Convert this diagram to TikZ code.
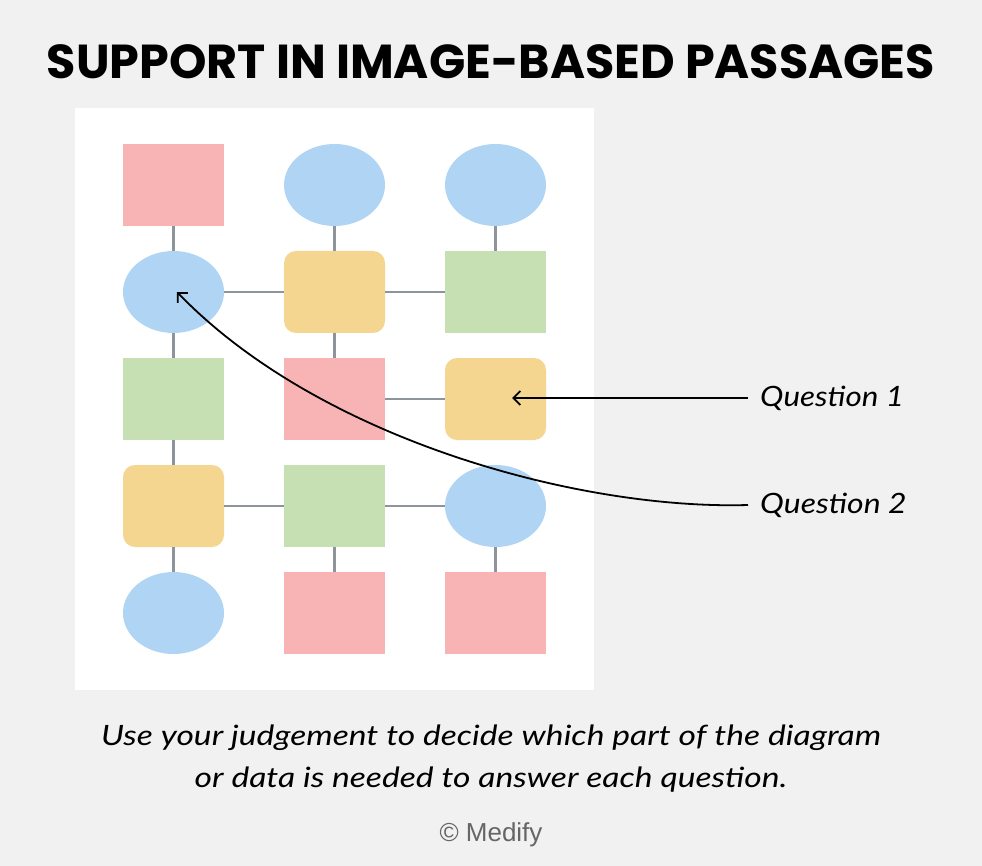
\documentclass[tikz,border=0pt]{standalone}
\usepackage{fontspec}
\setmainfont{Lato}
\newfontfamily\titlefont{Poppins}[UprightFont=* Bold]
\newfontfamily\handfont{Lato}[UprightFont=* Italic]
\newfontfamily\credfont{Liberation Sans}
\usetikzlibrary{shapes.geometric,arrows.meta}
\definecolor{bgc}{HTML}{F1F1F1}
\definecolor{pinkc}{HTML}{F8B4B4}
\definecolor{bluec}{HTML}{B0D4F3}
\definecolor{yellowc}{HTML}{F5D690}
\definecolor{greenc}{HTML}{C7E0B3}
\definecolor{linec}{HTML}{8E949C}
\definecolor{credc}{HTML}{666666}
\tikzset{
  shp/.style={draw=none, minimum width=101pt, minimum height=82pt, inner sep=0pt, outer sep=0pt},
  sq/.style={shp, rectangle, fill=#1},
  rnd/.style={shp, rectangle, rounded corners=12pt, fill=yellowc},
  ell/.style={shp, ellipse, fill=bluec},
  link/.style={draw=linec, line width=2.2pt},
  qarrow/.style={draw=black, line width=1.8pt, -{Straight Barb[length=7pt,width=14pt,line width=1.8pt]}},
  qlabel/.style={anchor=west, inner sep=0pt, font=\handfont\fontsize{28}{30}\selectfont},
  captext/.style={inner sep=0pt, font=\handfont\fontsize{28}{30}\selectfont}
}
\begin{document}
\begin{tikzpicture}[x=1pt,y=-1pt]
\fill[bgc] (0,0) rectangle (982,866);
\useasboundingbox (0,0) rectangle (982,866);
\fill[white] (75,108) rectangle (594,690);
\node[inner sep=0pt] (title) at (491,62) {\resizebox{888pt}{!}{\titlefont\fontsize{40}{44}\selectfont SUPPORT IN IMAGE-BASED PASSAGES}};
% grid
\node[sq=pinkc] (a1) at (173.5,185) {};
\node[ell] (b1) at (334.5,185) {};
\node[ell] (c1) at (495.5,185) {};
\node[ell] (a2) at (173.5,292) {};
\node[rnd] (b2) at (334.5,292) {};
\node[sq=greenc] (c2) at (495.5,292) {};
\node[sq=greenc] (a3) at (173.5,399) {};
\node[sq=pinkc] (b3) at (334.5,399) {};
\node[rnd] (c3) at (495.5,399) {};
\node[rnd] (a4) at (173.5,506) {};
\node[sq=greenc] (b4) at (334.5,506) {};
\node[ell] (c4) at (495.5,506) {};
\node[ell] (a5) at (173.5,613) {};
\node[sq=pinkc] (b5) at (334.5,613) {};
\node[sq=pinkc] (c5) at (495.5,613) {};
% links
\draw[link] (a1) -- (a2);
\draw[link] (a2) -- (a3);
\draw[link] (a3) -- (a4);
\draw[link] (a4) -- (a5);
\draw[link] (b1) -- (b2);
\draw[link] (b2) -- (b3);
\draw[link] (b4) -- (b5);
\draw[link] (c1) -- (c2);
\draw[link] (c4) -- (c5);
\draw[link] (a2) -- (b2);
\draw[link] (b2) -- (c2);
\draw[link] (b3) -- (c3);
\draw[link] (a4) -- (b4);
\draw[link] (b4) -- (c4);
% questions
\node[qlabel] (q1) at (760,398) {\scalebox{1.12}[1]{Question 1}};
\node[qlabel] (q2) at (760,505) {\scalebox{1.14}[1]{Question 2}};
\coordinate (t1) at (512,398);
\coordinate (t2) at (177,292);
\draw[qarrow] ([xshift=-12pt]q1.west) -- (t1);
\draw[qarrow] ([xshift=-12pt]q2.west) .. controls (580,510) and (320,440) .. (t2);
% caption
\node[captext] (cap1) at (491,738) {\scalebox{1.2}[1]{Use your judgement to decide which part of the diagram}};
\node[captext] (cap2) at (491,780) {\scalebox{1.2}[1]{or data is needed to answer each question.}};
\node[inner sep=0pt, text=credc, font=\credfont\fontsize{26}{28}\selectfont] (cred) at (491,835) {\textcopyright{} Medify};
\end{tikzpicture}
\end{document}
